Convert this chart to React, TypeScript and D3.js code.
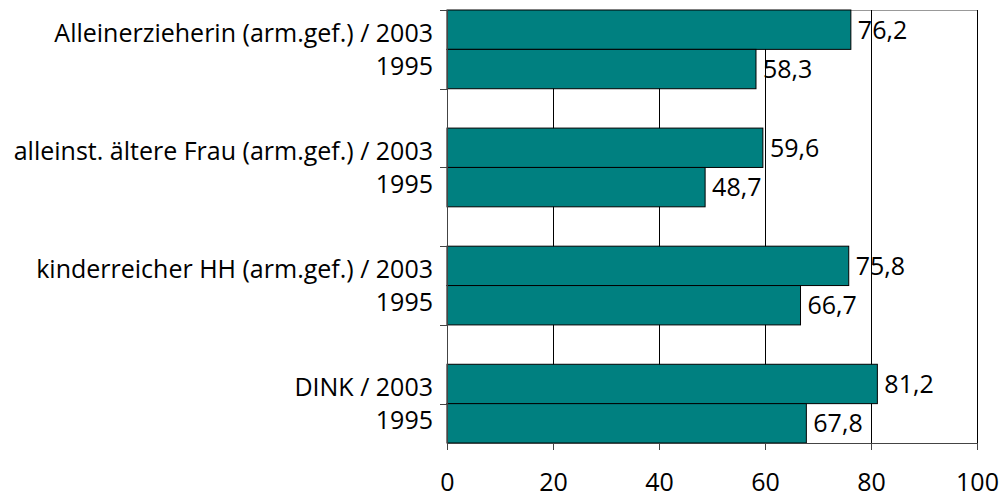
import React from 'react'
import * as d3 from 'd3'

const groups = ['Alleinerzieherin (arm.gef.)', 'alleinst. ältere Frau (arm.gef.)', 'kinderreicher HH (arm.gef.)', 'DINK']
const years = ['2003', '1995']
const values2003 = [76.2, 59.6, 75.8, 81.2]
const values1995 = [58.3, 48.7, 66.7, 67.8]
const xTicks = [0, 20, 40, 60, 80, 100]

const W = 1005
const H = 494
const left = 447
const right = 977
const top = 10
const bottom = 443

const fmt = d3.formatLocale({ decimal: ',', thousands: '.', grouping: [3], currency: ['', ''] }).format('.1f')

type Row = { slot: number, value: number, label: string, year: string }

const App = () => {
    // 11 slots: two bars per group, one blank slot between groups
    const nSlots = groups.length * 3 - 1
    const slots = d3.range(nSlots).map(String)

    const x = d3.scaleLinear().domain([0, 100]).range([left, right])
    const y = d3.scaleBand<string>().domain(slots).range([top, bottom]).padding(0)

    const rows: Row[] = []
    groups.forEach((g, i) => {
        rows.push({ slot: i * 3, value: values2003[i], label: `${g} / ${years[0]}`, year: years[0] })
        rows.push({ slot: i * 3 + 1, value: values1995[i], label: years[1], year: years[1] })
    })

    const bw = y.bandwidth()
    const tickSlots = d3.range(0, nSlots, 2)
    const font = '"Open Sans", "DejaVu Sans", sans-serif'
    const fs = 25

    return (
        <svg width={W} height={H} style={{ position: 'absolute', left: 0, top: 0 }} fontFamily={font}>
            {/* plot frame */}
            <line x1={left} x2={right} y1={top + 0.5} y2={top + 0.5} stroke="#999" />
            {xTicks.filter(t => t > 0).map(t => (
                <line key={t} x1={Math.round(x(t)) + 0.5} x2={Math.round(x(t)) + 0.5} y1={top} y2={bottom}
                    stroke="#000" strokeWidth={1} />
            ))}

            {rows.map(r => {
                const y0 = y(String(r.slot))!
                return (
                    <rect key={r.slot} x={x(0)} y={y0} width={x(r.value) - x(0)} height={bw}
                        fill="#008080" stroke="#000" strokeWidth={1} />
                )
            })}

            {rows.map(r => {
                const yc = y(String(r.slot))! + bw / 2
                return (
                    <text key={'v' + r.slot} x={x(r.value) + 7} y={yc} dy="0.36em" fontSize={fs} fill="#000">
                        {fmt(r.value)}
                    </text>
                )
            })}

            {/* y axis */}
            <line x1={left + 0.5} x2={left + 0.5} y1={top} y2={bottom} stroke="#444" />
            {tickSlots.map(s => (
                <line key={s} x1={left - 7} x2={left} y1={Math.round(y(String(s))!) + 0.5} y2={Math.round(y(String(s))!) + 0.5}
                    stroke="#444" />
            ))}
            {rows.map(r => {
                const yc = y(String(r.slot))! + bw / 2 + (r.year === years[0] ? 3 : -3)
                return (
                    <text key={'l' + r.slot} x={left - 14} y={yc} dy="0.36em" textAnchor="end" fontSize={fs} fill="#000">
                        {r.label}
                    </text>
                )
            })}

            {/* x axis */}
            <line x1={left} x2={right + 1} y1={bottom + 0.5} y2={bottom + 0.5} stroke="#444" />
            {xTicks.map(t => (
                <g key={t} transform={`translate(${Math.round(x(t)) + 0.5},${bottom})`}>
                    <line y1={0} y2={7} stroke="#444" />
                    <text y={48} textAnchor="middle" fontSize={fs} fill="#000">{t}</text>
                </g>
            ))}
        </svg>
    )
}

export default App
